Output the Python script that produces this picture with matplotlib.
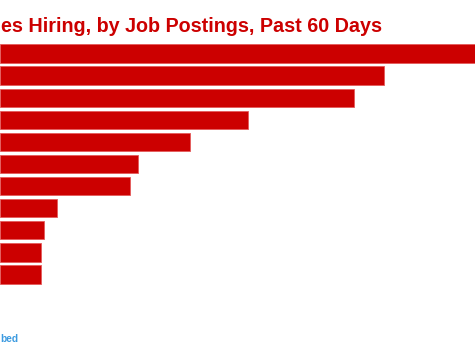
import matplotlib
matplotlib.use("Agg")
import matplotlib.pyplot as plt

# Data (labels are not visible in the reference)
companies = ["Company A", "Company B", "Company C", "Company D", "Company E", "Company F",
             "Company G", "Company H", "Company I", "Company J", "Company K"]
postings = [480, 384, 354, 248, 190, 138, 130, 57, 43.5, 40.7, 40.5]

# visible parts of the (cropped) title and footer link
title = "es Hiring, by Job Postings, Past 60 Days"
footer = "bed"

W, H = 475, 356
fig = plt.figure(figsize=(W / 100, H / 100), dpi=100)
fig.patch.set_facecolor("white")

# axes placement: bars span rows -0.5..10.5
top_px, bottom_px = 42.45, 285.55
ax = fig.add_axes([0, (H - bottom_px) / H, 1, (bottom_px - top_px) / H])
ypos = list(range(len(companies)))
ax.barh(ypos, postings, height=0.83, color="#CC0000", edgecolor="#e45a5a", linewidth=0.6)
ax.set_xlim(0, 475)
ax.set_ylim(len(companies) - 0.5, -0.5)
ax.axis("off")

fig.text(0.8 / W, 1 - 31.5 / H, title, ha="left", va="baseline",
         fontsize=14.2, fontweight="bold", color="#CC0000", family="Liberation Sans")
fig.text(18.5 / W, 1 - 342.5 / H, footer, ha="right", va="baseline",
         fontsize=7.3, fontweight="bold", color="#3d9be0", family="Liberation Sans")

fig.savefig("out.png", dpi=100)
